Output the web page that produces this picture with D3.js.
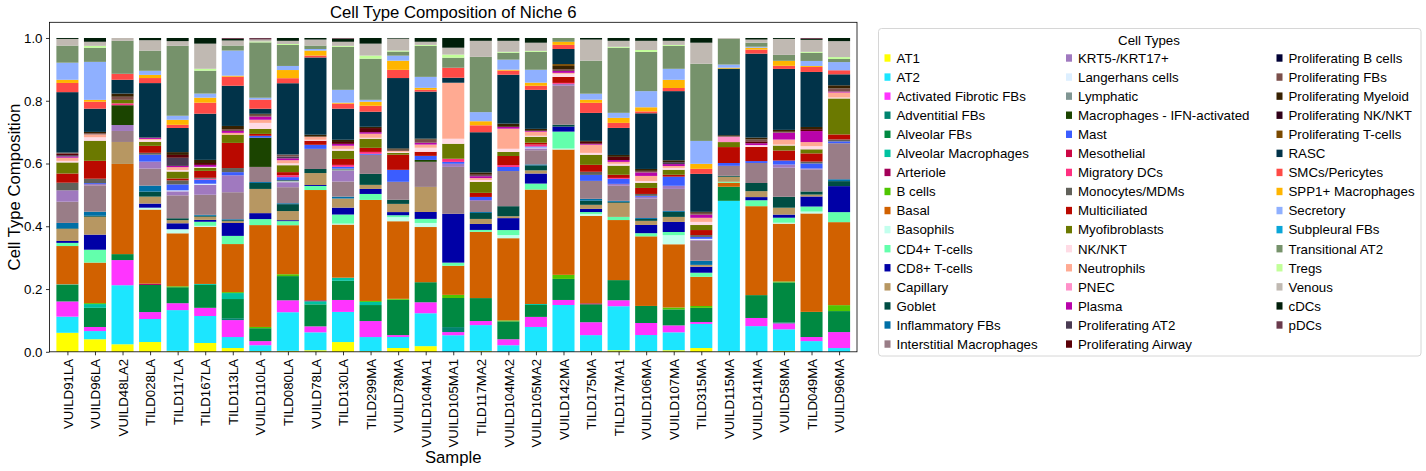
<!DOCTYPE html>
<html>
<head>
<meta charset="utf-8">
<script src="https://cdn.jsdelivr.net/npm/d3@7"></script>
<style>
  body { margin: 0; background: #fff; }
  svg { font-family: "Liberation Sans", Arial, sans-serif; }
</style>
</head>
<body>
<svg id="chart" width="1426" height="471"></svg>
<script>
// sample order on the x axis
const samples = ['VUILD91LA', 'VUILD96LA', 'VUILD48LA2', 'TILD028LA', 'TILD117LA', 'TILD167LA', 'TILD113LA',
  'VUILD110LA', 'TILD080LA', 'VUILD78LA', 'TILD130LA', 'TILD299MA', 'VUILD78MA', 'VUILD104MA1', 'VUILD105MA1',
  'TILD117MA2', 'VUILD104MA2', 'VUILD105MA2', 'VUILD142MA', 'TILD175MA', 'TILD117MA1', 'VUILD106MA',
  'VUILD107MA', 'TILD315MA', 'VUILD115MA', 'VUILD141MA', 'VUILD58MA', 'TILD049MA', 'VUILD96MA']

// cell types, in stacking (and legend) order
const cellTypes = ['AT1', 'AT2', 'Activated Fibrotic FBs', 'Adventitial FBs', 'Alveolar FBs', 'Alveolar Macrophages',
  'Arteriole', 'B cells', 'Basal', 'Basophils', 'CD4+ T-cells', 'CD8+ T-cells', 'Capillary', 'Goblet',
  'Inflammatory FBs', 'Interstitial Macrophages', 'KRT5-/KRT17+', 'Langerhans cells', 'Lymphatic',
  'Macrophages - IFN-activated', 'Mast', 'Mesothelial', 'Migratory DCs', 'Monocytes/MDMs', 'Multiciliated',
  'Myofibroblasts', 'NK/NKT', 'Neutrophils', 'PNEC', 'Plasma', 'Proliferating AT2', 'Proliferating Airway',
  'Proliferating B cells', 'Proliferating FBs', 'Proliferating Myeloid', 'Proliferating NK/NKT',
  'Proliferating T-cells', 'RASC', 'SMCs/Pericytes', 'SPP1+ Macrophages', 'Secretory', 'Subpleural FBs',
  'Transitional AT2', 'Tregs', 'Venous', 'cDCs', 'pDCs']

// short keys used in the composition rows, same order as cellTypes
const cellKeys = ['AT1', 'AT2', 'AFB', 'AdvFB', 'AlvFB', 'AlvMac', 'Art', 'Bc', 'Basal', 'Baso', 'CD4', 'CD8',
  'Cap', 'Gob', 'InfFB', 'IntMac', 'KRT5', 'Lang', 'Lymph', 'MacIFN', 'Mast', 'Meso', 'MigDC', 'Mono', 'Cil',
  'Myo', 'NK', 'Neu', 'PNEC', 'Plasma', 'pAT2', 'pAir', 'pB', 'pFB', 'pMye', 'pNK', 'pT', 'RASC', 'SMC',
  'SPP1', 'Sec', 'SubFB', 'TAT2', 'Treg', 'Ven', 'cDC', 'pDC']

const cellColors = ['#FFFF00', '#1CE6FF', '#FF34FF', '#00846F', '#008941', '#00C2A0', '#A30059', '#4FC601',
  '#D16100', '#C2FFED', '#63FFAC', '#0000A6', '#B79762', '#004D43', '#006FA6', '#997D87', '#A079BF',
  '#DDEFFF', '#809693', '#1B4400', '#3B5DFF', '#CC0744', '#FF2F80', '#61615A', '#BA0900', '#6B7900',
  '#FFDBE5', '#FFAA92', '#FF90C9', '#B903AA', '#4A3B53', '#5A0007', '#000035', '#7B4F4B', '#372101',
  '#300018', '#7A4900', '#013349', '#FF4A46', '#FFB500', '#8FB0FF', '#0AA6D8', '#76926B', '#C2FF99',
  '#C0B9B2', '#001E09', '#6A3A4C']

// percent of each cell type per sample (absent = 0), one row per sample
const composition = [
  {AT1:6.0, AT2:5.1, AFB:4.8, AlvFB:5.2, AlvMac:0.2, Basal:12.1, CD4:1.0, CD8:0.6, Cap:3.8, Gob:0.2, InfFB:1.7, IntMac:6.7, KRT5:3.6, Mono:2.4, Cil:2.9, Myo:3.5, NK:0.5, Neu:1.0, Plasma:0.4, pAT2:0.4, pAir:0.4, pFB:0.4, RASC:19.1, SMC:2.9, SPP1:1.0, Sec:5.4, TAT2:5.4, Ven:2.1, cDC:0.3},
  {AT1:4.0, AT2:2.6, AFB:1.3, AlvFB:6.1, AlvMac:1.2, Bc:0.3, Basal:12.9, CD4:4.1, CD8:4.8, Cap:5.7, Gob:0.3, InfFB:1.3, IntMac:8.4, KRT5:0.4, Mast:0.3, Mono:1.4, Cil:5.7, Myo:6.4, NK:1.1, Neu:0.9, pFB:0.4, pMye:0.4, RASC:7.4, SMC:2.2, SPP1:0.6, Sec:12.1, TAT2:4.5, Treg:0.6, Ven:1.3, cDC:1.2},
  {AT1:2.4, AT2:18.8, AFB:8.0, AlvFB:1.9, Basal:28.7, Cap:7.0, IntMac:3.5, KRT5:1.9, MacIFN:6.3, MigDC:0.6, Myo:1.1, pFB:1.0, pMye:1.0, RASC:4.4, SMC:1.9, TAT2:10.5, Ven:0.9},
  {AT1:3.1, AT2:7.3, AFB:2.2, AlvFB:8.6, Art:0.4, Basal:23.5, Baso:0.6, CD8:1.3, Cap:2.2, Gob:1.6, InfFB:1.9, IntMac:5.4, KRT5:2.2, Mast:2.2, Mono:0.6, Cil:2.2, Myo:1.3, NK:0.6, Neu:0.3, Plasma:0.3, pAT2:0.2, RASC:17.2, SMC:1.6, SPP1:1.0, Sec:1.3, TAT2:6.4, Ven:3.3, cDC:0.7},
  {AT1:0.3, AT2:13.0, AFB:2.2, AlvFB:5.1, Bc:0.3, Basal:16.9, Baso:1.3, CD8:1.9, Cap:1.0, Gob:0.6, IntMac:7.3, KRT5:1.3, Lang:0.3, Mast:1.9, Mono:1.3, Cil:0.6, Myo:2.2, NK:0.5, Neu:0.9, Plasma:0.4, pAT2:2.6, pAir:0.9, pMye:0.9, RASC:7.7, SMC:1.0, SPP1:1.6, Sec:1.3, TAT2:22.3, Ven:1.5, cDC:1.0},
  {AT1:2.8, AT2:8.6, AFB:2.6, AlvFB:7.3, AlvMac:0.3, Basal:18.2, Baso:0.3, CD4:1.3, CD8:0.6, Cap:1.0, Gob:0.3, InfFB:0.3, IntMac:6.4, KRT5:3.2, Lang:0.3, Mast:1.3, MigDC:0.3, Mono:0.3, Cil:2.2, Myo:1.0, NK:0.3, Plasma:0.6, pAir:0.6, pMye:1.0, RASC:14.7, SMC:3.5, SPP1:1.6, Sec:1.3, TAT2:7.3, Treg:0.6, Ven:8.0, cDC:1.8},
  {AT1:1.2, AT2:3.5, AFB:5.4, AdvFB:0.6, AlvFB:6.1, AlvMac:1.9, Bc:0.3, Basal:15.3, CD4:2.6, CD8:4.1, Cap:0.6, Gob:0.3, InfFB:0.3, IntMac:8.6, KRT5:5.4, Mast:1.0, Mono:1.3, Cil:8.0, Myo:2.6, Neu:0.6, Plasma:0.6, pFB:0.6, pMye:1.0, RASC:12.8, SMC:2.9, SPP1:0.3, Sec:8.0, TAT2:1.6, Ven:1.6, cDC:0.5, pDC:0.3},
  {AT1:0.2, AT2:1.9, AFB:1.3, AlvFB:4.1, Bc:0.4, Basal:32.4, CD4:1.9, CD8:1.9, Cap:7.7, Gob:1.9, InfFB:0.3, IntMac:4.8, MacIFN:9.3, Mast:0.6, Cil:0.6, Myo:1.6, NK:1.9, Neu:1.0, Plasma:1.0, pFB:0.6, pMye:0.3, RASC:1.6, SMC:2.9, Sec:0.6, TAT2:17.6, Treg:0.3, Ven:0.6, pDC:0.5},
  {AT1:0.3, AT2:12.3, AFB:3.8, AlvFB:7.7, Bc:0.6, Basal:15.6, CD4:1.3, CD8:0.3, Cap:2.9, Gob:2.2, InfFB:0.3, IntMac:5.1, KRT5:1.6, Lang:0.3, MacIFN:0.3, Mast:1.0, MigDC:0.6, Cil:1.0, Myo:2.2, NK:0.6, Neu:1.0, Plasma:0.6, pAT2:0.6, pFB:0.6, RASC:22.7, SMC:1.6, SPP1:2.6, Sec:1.3, TAT2:6.7, Treg:0.3, Ven:1.0, cDC:0.9},
  {AT1:0.5, AT2:5.7, AFB:1.9, AlvFB:7.0, AlvMac:1.0, Art:0.3, Basal:35.1, CD4:1.3, CD8:0.3, Cap:3.8, Gob:1.3, IntMac:6.4, Mast:1.3, Cil:1.3, NK:0.3, Neu:1.0, pMye:0.6, RASC:24.6, SMC:0.6, SPP1:1.6, Sec:0.5, TAT2:1.1, Ven:1.9, cDC:0.5},
  {AT1:3.1, AT2:9.6, AFB:3.8, AlvFB:6.1, AlvMac:1.0, Basal:16.9, Baso:0.3, CD4:2.9, CD8:2.2, Cap:2.9, InfFB:0.6, IntMac:4.8, KRT5:3.5, Lymph:0.6, Mast:0.6, MigDC:0.6, Cil:1.9, Myo:2.6, NK:0.6, Neu:1.0, Plasma:0.6, pAir:0.6, pMye:0.7, RASC:9.9, SMC:1.6, SPP1:0.3, Sec:4.1, TAT2:13.7, Treg:0.3, Ven:1.3, cDC:1.0, pDC:0.2},
  {AT1:0.2, AT2:4.5, AFB:5.1, AlvFB:5.1, AlvMac:1.0, Bc:0.3, Basal:32.2, CD4:1.9, CD8:1.6, Cap:1.3, Gob:3.5, IntMac:6.1, Mast:0.3, MigDC:0.6, Cil:1.3, Myo:2.9, NK:0.3, Neu:1.3, Plasma:0.5, pAir:1.3, pMye:0.4, RASC:4.8, SMC:1.9, SPP1:1.3, Sec:0.6, TAT2:13.1, Treg:1.0, Ven:3.8, cDC:1.8},
  {AT1:1.2, AT2:3.5, AFB:0.6, AlvFB:11.2, Bc:0.3, Basal:24.6, Baso:1.3, CD4:0.6, CD8:1.0, Cap:2.6, Gob:1.3, IntMac:5.7, Mast:3.8, Cil:4.8, Myo:0.6, NK:0.3, Neu:0.3, pFB:0.4, pMye:0.4, RASC:22.3, SMC:2.6, SPP1:2.9, Sec:1.6, TAT2:1.3, Treg:0.3, Ven:3.8, cDC:0.2},
  {AT1:1.8, AT2:10.5, AFB:3.5, AlvFB:6.4, Basal:17.6, Baso:1.3, CD4:1.3, CD8:2.2, Cap:8.0, IntMac:8.0, MacIFN:0.6, Mast:1.3, Cil:1.3, NK:1.3, Neu:1.0, Plasma:0.6, pFB:1.0, pMye:0.3, RASC:15.0, SMC:0.6, SPP1:0.6, Sec:3.5, TAT2:9.9, Treg:0.3, Ven:1.0, cDC:1.2},
  {AT2:5.3, AFB:1.0, AdvFB:1.6, AlvFB:9.3, Bc:1.0, Basal:9.3, CD4:1.0, CD8:15.6, IntMac:15.0, KRT5:1.0, Mast:0.6, MigDC:1.0, Myo:4.8, NK:1.6, Neu:17.9, RASC:1.6, SMC:3.2, TAT2:3.2, Treg:1.0, Ven:2.2, cDC:3.1},
  {AT1:0.3, AT2:8.2, AFB:1.3, AlvFB:7.3, Basal:21.1, CD4:0.6, CD8:1.9, Cap:1.6, Gob:1.9, InfFB:0.3, IntMac:3.5, KRT5:0.3, Mast:1.0, Cil:1.3, Myo:3.5, NK:0.6, Neu:0.6, Plasma:0.6, pAT2:0.3, pAir:0.3, pMye:0.6, RASC:12.8, SMC:2.2, SPP1:1.3, Sec:2.9, TAT2:17.6, Ven:5.1, cDC:0.9},
  {AT2:2.1, AFB:1.9, AlvFB:5.7, Bc:0.3, Basal:26.2, Baso:1.0, CD4:1.6, CD8:3.8, Cap:0.6, Gob:3.2, IntMac:11.2, Mast:1.3, MigDC:0.6, Cil:2.9, Myo:1.3, NK:1.0, Neu:6.4, Plasma:0.6, pMye:1.0, RASC:15.6, SMC:1.3, SPP1:0.3, Sec:3.2, TAT2:2.2, Treg:0.3, Ven:3.5, cDC:0.9},
  {AT1:0.2, AT2:7.7, AFB:3.2, AlvFB:3.8, AlvMac:0.3, Basal:36.4, CD4:1.9, CD8:3.2, Cap:1.0, Gob:1.6, InfFB:0.3, IntMac:4.5, KRT5:0.6, Lang:0.3, Mast:0.3, MigDC:0.6, Cil:0.6, Myo:1.9, NK:0.3, Neu:1.3, Plasma:0.3, pMye:0.6, RASC:12.4, SMC:1.3, SPP1:1.0, Sec:4.1, TAT2:5.7, Treg:0.3, Ven:2.6, cDC:1.5},
  {AT2:14.9, AFB:1.6, AlvFB:6.7, Bc:1.3, Basal:39.9, Baso:0.3, CD4:5.4, CD8:1.6, Gob:0.6, IntMac:12.4, KRT5:0.6, MigDC:0.3, Cil:1.9, NK:1.0, Neu:0.3, Plasma:0.6, pFB:0.6, pMye:1.0, pT:0.6, RASC:4.8, SMC:1.3, SPP1:1.0, TAT2:1.2},
  {AT1:0.2, AT2:5.1, AFB:4.1, AlvFB:5.7, Art:0.3, Basal:27.8, Baso:0.6, CD4:0.6, CD8:1.0, Cap:1.3, Gob:1.3, InfFB:0.6, IntMac:5.7, Mast:1.9, Mono:1.0, Cil:2.2, Myo:3.2, NK:0.6, Neu:2.6, Plasma:0.3, pAir:0.6, pMye:0.3, RASC:8.9, SMC:3.2, SPP1:1.0, Sec:1.9, TAT2:10.5, Ven:6.7, cDC:0.5},
  {AT1:0.5, AT2:14.0, AFB:1.9, AlvFB:6.4, Basal:19.1, CD4:1.0, Cap:4.5, Gob:0.3, InfFB:0.3, IntMac:4.8, KRT5:0.6, Mast:1.6, MigDC:0.3, Cil:1.0, Myo:2.9, NK:0.6, Neu:0.6, Plasma:0.6, pAir:1.0, pMye:0.6, RASC:8.6, SMC:1.6, SPP1:1.6, Sec:1.6, TAT2:20.7, Treg:0.3, Ven:1.9, cDC:0.9},
  {AT1:0.2, AT2:5.1, AFB:3.8, AlvFB:5.4, Basal:22.0, CD4:1.0, CD8:2.6, Cap:1.3, Gob:0.6, InfFB:0.3, IntMac:6.1, KRT5:0.6, Mast:0.3, Mono:0.6, Cil:1.9, Myo:1.6, NK:0.6, Neu:1.6, Plasma:1.1, pFB:0.5, pMye:0.6, RASC:17.6, SMC:0.6, SPP1:1.3, Sec:5.1, TAT2:12.4, Treg:0.6, Ven:2.9, cDC:0.9},
  {AT1:0.5, AT2:5.7, AFB:2.2, AlvFB:5.1, Bc:0.6, Basal:20.1, Baso:2.9, CD4:1.0, CD8:3.2, Cap:1.6, Gob:1.6, InfFB:0.3, IntMac:7.0, KRT5:1.0, Mast:2.9, Cil:0.6, Myo:1.6, NK:0.6, Neu:0.6, Plasma:0.6, pAT2:0.6, pMye:0.6, RASC:22.0, SMC:1.0, SPP1:2.6, Sec:3.5, TAT2:7.3, Treg:0.3, Ven:1.3, cDC:0.9},
  {AT1:1.2, AT2:7.7, AFB:0.6, AlvFB:4.5, Bc:0.6, Basal:9.3, CD4:1.3, CD8:1.9, Cap:0.6, InfFB:1.3, IntMac:6.4, KRT5:0.3, Lang:0.3, Mast:0.6, Mono:0.6, Cil:1.6, Myo:1.6, NK:1.0, Neu:1.3, Plasma:1.0, pFB:0.6, pMye:0.3, RASC:12.1, SMC:1.6, SPP1:1.6, Sec:7.3, TAT2:24.6, Ven:6.7, cDC:1.5},
  {AT1:0.2, AT2:48.1, AlvFB:4.5, Basal:1.3, CD4:0.3, Cap:1.6, Gob:0.3, IntMac:3.2, Mast:0.9, Cil:5.1, Myo:1.6, PNEC:1.7, pFB:0.2, pMye:0.3, RASC:21.3, SPP1:0.3, Sec:1.0, TAT2:8.3, Ven:0.2},
  {AT2:8.2, AFB:2.6, AlvFB:7.3, Basal:28.4, CD4:1.9, CD8:1.0, Cap:1.9, Gob:2.6, IntMac:6.4, Mast:0.6, Cil:4.5, NK:0.6, Plasma:0.6, pAir:0.6, pFB:0.6, pMye:0.6, RASC:26.8, SMC:1.3, SPP1:0.6, Sec:0.3, TAT2:1.3, Ven:1.0, cDC:0.5},
  {AT1:0.3, AT2:6.9, AFB:1.9, AdvFB:0.3, AlvFB:12.8, Bc:0.3, Basal:18.5, Baso:0.3, CD4:1.6, CD8:1.0, Cap:2.2, Gob:3.5, IntMac:9.3, KRT5:1.0, Mast:1.3, Cil:3.2, Myo:1.6, NK:0.3, Neu:1.6, Plasma:2.2, pFB:0.3, pMye:0.6, RASC:19.5, SMC:1.0, SPP1:1.6, TAT2:1.9, Ven:5.1, cDC:0.3},
  {AT2:3.4, AFB:1.3, AlvFB:8.0, Basal:31.3, Baso:0.6, CD4:1.6, CD8:3.2, Cap:0.6, Gob:1.0, IntMac:7.0, KRT5:0.3, Mast:1.6, Mono:0.6, Cil:2.6, Myo:1.3, NK:1.0, Neu:1.3, Plasma:3.5, pAir:0.6, pMye:0.7, RASC:17.5, SMC:1.6, SPP1:0.3, Sec:1.6, TAT2:2.6, Treg:0.3, Ven:3.8, cDC:0.3, pDC:0.3},
  {AT2:1.2, AFB:5.1, AlvFB:6.7, Bc:1.9, Basal:26.5, CD4:3.2, CD8:8.3, Gob:1.6, InfFB:0.6, IntMac:11.5, Mast:0.6, Mono:0.6, Cil:1.6, Myo:11.5, NK:0.3, Neu:1.6, Plasma:0.3, pFB:1.0, pMye:1.0, RASC:3.5, SMC:1.3, Sec:2.6, TAT2:1.0, Treg:0.6, Ven:5.1, cDC:1.0}
]

const yTicks = [0, 0.2, 0.4, 0.6, 0.8, 1.0]

const svg = d3.select('#chart')
const plot = { left: 49.5, right: 857, top: 22.3, bottom: 351.8 }

const x = d3.scaleLinear().domain([-0.65, samples.length - 0.35]).range([plot.left, plot.right])
const y = d3.scaleLinear().domain([0, 1.05]).range([plot.bottom, plot.top])
const color = d3.scaleOrdinal().domain(cellKeys).range(cellColors)

// dense table for d3.stack
const table = samples.map((s, i) => {
    const row = { sample: s, i }
    cellKeys.forEach(k => row[k] = composition[i][k] || 0)
    return row
})

// proportions: each bar is expanded to 1
const series = d3.stack()
    .keys(cellKeys)
    .offset(d3.stackOffsetExpand)(table)

const barW = x(0.8) - x(0)

svg.append('g')
    .selectAll('g')
    .data(series)
    .join('g')
    .attr('fill', d => color(d.key))
    .selectAll('rect')
    .data(d => d.filter(v => v[1] - v[0] > 0))
    .join('rect')
    .attr('x', d => x(d.data.i - 0.4))
    .attr('width', barW)
    .attr('y', d => y(d[1]))
    .attr('height', d => y(d[0]) - y(d[1]))

// axes
const yAxis = svg.append('g')
    .attr('transform', `translate(${plot.left},0)`)
    .call(d3.axisLeft(y).tickValues(yTicks).tickFormat(d3.format('.1f')).tickSize(3.5).tickPadding(3.5))
const xAxis = svg.append('g')
    .attr('transform', `translate(0,${plot.bottom})`)
    .call(d3.axisBottom(x).tickValues(d3.range(samples.length)).tickFormat(i => samples[i]).tickSize(3.5))

for (const ax of [yAxis, xAxis]) {
    ax.select('.domain').remove()
    ax.selectAll('line').attr('stroke', '#000').attr('stroke-width', 0.8)
    ax.selectAll('text').attr('fill', '#000').attr('font-size', 13.3)
}
xAxis.selectAll('text')
    .attr('transform', 'rotate(-90)')
    .attr('text-anchor', 'end')
    .attr('x', -7)
    .attr('y', 0)
    .attr('dy', '0.35em')

// frame
svg.append('rect')
    .attr('x', plot.left).attr('y', plot.top)
    .attr('width', plot.right - plot.left).attr('height', plot.bottom - plot.top)
    .attr('fill', 'none').attr('stroke', '#000').attr('stroke-width', 0.8)

// titles
svg.append('text')
    .attr('x', (plot.left + plot.right) / 2).attr('y', 18)
    .attr('text-anchor', 'middle').attr('font-size', 16.7)
    .text('Cell Type Composition of Niche 6')
svg.append('text')
    .attr('x', (plot.left + plot.right) / 2).attr('y', 463)
    .attr('text-anchor', 'middle').attr('font-size', 16.7)
    .text('Sample')
svg.append('text')
    .attr('transform', `translate(20,${(plot.top + plot.bottom) / 2}) rotate(-90)`)
    .attr('text-anchor', 'middle').attr('font-size', 16.7)
    .text('Cell Type Composition')

// legend, three columns filled top to bottom
const legend = svg.append('g')
legend.append('rect')
    .attr('x', 878.5).attr('y', 28.5).attr('width', 542.5).attr('height', 327.5)
    .attr('rx', 3).attr('fill', '#fff').attr('stroke', '#d6d6d6')
legend.append('text')
    .attr('x', 1149).attr('y', 44.5).attr('text-anchor', 'middle').attr('font-size', 13.3)
    .text('Cell Types')

const colX = [884.5, 1066, 1276.5]
const perCol = 16
const item = legend.selectAll('g.item')
    .data(cellTypes)
    .join('g')
    .attr('class', 'item')
    .attr('transform', (d, i) => `translate(${colX[Math.floor(i / perCol)]},${58 + (i % perCol) * 19.07})`)
item.append('rect')
    .attr('x', 0).attr('y', -3.7).attr('width', 6).attr('height', 7.4)
    .attr('fill', (d, i) => cellColors[i])
item.append('text')
    .attr('x', 12).attr('y', 4.8).attr('font-size', 13.3)
    .text(d => d)
</script>
</body>
</html>
